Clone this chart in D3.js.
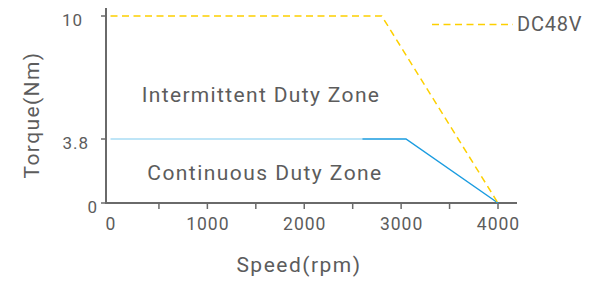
<!DOCTYPE html>
<html>
<head>
<meta charset="utf-8">
<script src="https://cdn.jsdelivr.net/npm/d3@7"></script>
<style>
  body { margin: 0; background: #fff; }
  text { font-family: Roboto, "Liberation Sans", sans-serif; fill: #5c5c5c; }
</style>
</head>
<body>
<svg id="chart" width="594" height="281"></svg>
<script>
// data
var xTicks = [0, 1000, 2000, 3000, 4000];
var xMinorTicks = [500, 1500, 2500, 3500];
var yTicks = [0, 3.8, 10];
var peakSpeed = [0, 2800, 4000];
var peakTorque = [10, 10, 0];
var contSpeed = [0, 2600, 3050, 4000];
var contTorque = [3.8, 3.8, 3.8, 0];
var zoneLabels = ["Intermittent Duty Zone", "Continuous Duty Zone"];

var svg = d3.select("#chart");

var x = d3.scaleLinear().domain([0, 4000]).range([110.5, 498]);
// the y axis is not evenly spaced in the original
var y = d3.scaleLinear().domain([0, 3.8, 10]).range([203, 139, 16]);

var axisColor = "#6a6a6a";

// axis lines
svg.append("line")
    .attr("x1", 106).attr("x2", 106).attr("y1", 8).attr("y2", 204)
    .style("stroke", axisColor).style("stroke-width", 2);
svg.append("line")
    .attr("x1", 105).attr("x2", 517).attr("y1", 203).attr("y2", 203)
    .style("stroke", axisColor).style("stroke-width", 2);

// x ticks
svg.selectAll(".xt")
    .data(xTicks.concat(xMinorTicks).filter(function(d) { return d > 0; }))
    .enter().append("line")
    .attr("x1", function(d) { return x(d); })
    .attr("x2", function(d) { return x(d); })
    .attr("y1", 203).attr("y2", 209)
    .style("stroke", axisColor).style("stroke-width", 1.5);

svg.selectAll(".xl")
    .data(xTicks)
    .enter().append("text")
    .attr("x", function(d) { return x(d) + 0.5; })
    .attr("y", 230)
    .attr("text-anchor", "middle")
    .style("font-size", "17.5px")
    .style("letter-spacing", "1px")
    .text(function(d) { return d; });

// y ticks
svg.selectAll(".yt")
    .data(yTicks)
    .enter().append("line")
    .attr("x1", 101).attr("x2", 106)
    .attr("y1", function(d) { return y(d); })
    .attr("y2", function(d) { return y(d); })
    .style("stroke", axisColor).style("stroke-width", 1.5);

// label right edges differ in the original
var yLabelRight = function(d) { return d === 0 ? 98 : (d === 10 ? 83 : 89); };
svg.selectAll(".yl")
    .data(yTicks)
    .enter().append("text")
    .attr("x", yLabelRight)
    .attr("y", function(d) { return y(d) + 10; })
    .attr("text-anchor", "end")
    .style("font-size", "17px")
    .style("letter-spacing", "1px")
    .text(function(d) { return d; });

// axis titles
svg.append("text")
    .attr("transform", "translate(39,115) rotate(-90)")
    .attr("text-anchor", "middle")
    .style("font-size", "21px")
    .style("letter-spacing", "1.4px")
    .text("Torque(Nm)");
svg.append("text")
    .attr("x", 299).attr("y", 272)
    .attr("text-anchor", "middle")
    .style("font-size", "21px")
    .style("letter-spacing", "1.5px")
    .text("Speed(rpm)");

var line = d3.line()
    .x(function(d) { return x(d[0]); })
    .y(function(d) { return y(d[1]); });

// continuous curve: light part then darker part
var cont = d3.zip(contSpeed, contTorque);
svg.append("path")
    .attr("d", line(cont.slice(0, 2)))
    .style("fill", "none").style("stroke", "#a9dcf5").style("stroke-width", 1.5);
svg.append("path")
    .attr("d", line(cont.slice(1)))
    .style("fill", "none").style("stroke", "#1a9ce0").style("stroke-width", 1.5);

// peak curve
svg.append("path")
    .attr("d", line(d3.zip(peakSpeed, peakTorque)))
    .style("fill", "none").style("stroke", "#fdd000").style("stroke-width", 1.5)
    .style("stroke-dasharray", "7,4.5");

// legend
svg.append("line")
    .attr("x1", 432).attr("x2", 513).attr("y1", 24.5).attr("y2", 24.5)
    .style("stroke", "#fdd000").style("stroke-width", 1.5)
    .style("stroke-dasharray", "7,4.5");
svg.append("text")
    .attr("x", 517).attr("y", 31)
    .style("font-size", "20px")
    .style("letter-spacing", "0.8px")
    .text("DC48V");

// zone labels
svg.append("text")
    .attr("x", 261).attr("y", 102)
    .attr("text-anchor", "middle")
    .style("font-size", "21px")
    .style("letter-spacing", "1.35px")
    .text(zoneLabels[0]);
svg.append("text")
    .attr("x", 265).attr("y", 180)
    .attr("text-anchor", "middle")
    .style("font-size", "21px")
    .style("letter-spacing", "1.45px")
    .text(zoneLabels[1]);
</script>
</body>
</html>
